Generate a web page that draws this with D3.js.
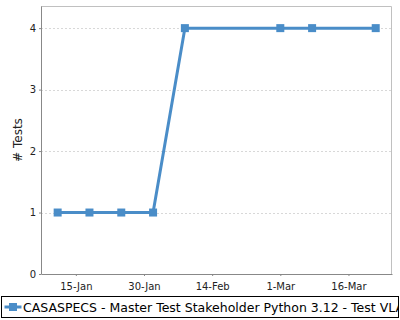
<!DOCTYPE html>
<html>
<head>
<meta charset="utf-8">
<script src="https://cdn.jsdelivr.net/npm/d3@7"></script>
<style>
  body { margin: 0; background: #fff; }
  svg { display: block; font-family: "DejaVu Sans", sans-serif; }
</style>
</head>
<body>
<script>
// weekly test counts
const dates = ['2025-01-11', '2025-01-18', '2025-01-25', '2025-02-01', '2025-02-08', '2025-03-01', '2025-03-08', '2025-03-22'];
const tests = [1, 1, 1, 1, 4, 4, 4, 4];
const tickDates = ['2025-01-15', '2025-01-30', '2025-02-14', '2025-03-01', '2025-03-16'];
const yTicks = [0, 1, 2, 3, 4];
const seriesName = 'CASASPECS - Master Test Stakeholder Python 3.12 - Test VLA';

const W = 400, H = 320;
const margin = { top: 6, right: 8, bottom: 46, left: 41 };
const width = W - margin.left - margin.right;
const height = H - margin.top - margin.bottom;
const color = '#4a8dc8';

const parse = d3.timeParse('%Y-%m-%d');
const data = dates.map((d, i) => ({ date: parse(d), value: tests[i] }));

const x = d3.scaleTime()
    .domain([d3.timeHour.offset(parse('2025-01-07'), 8), d3.timeHour.offset(parse('2025-03-25'), 14)])
    .range([0, width]);

const y = d3.scaleLinear()
    .domain([0, 4.36])
    .range([height, 0]);

const svg = d3.select('body').append('svg')
    .attr('width', W)
    .attr('height', H);

const g = svg.append('g')
    .attr('transform', `translate(${margin.left},${margin.top})`);

// grid
g.selectAll('.grid')
    .data(yTicks.filter(d => d > 0))
    .enter().append('line')
    .attr('x1', 0)
    .attr('x2', width)
    .attr('y1', d => Math.round(y(d)) + 0.5)
    .attr('y2', d => Math.round(y(d)) + 0.5)
    .attr('stroke', '#d8d8d8')
    .attr('stroke-dasharray', '2,2');

// frame (top/right)
g.append('path')
    .attr('d', `M0,0.5H${width - 0.5}V${height}`)
    .attr('fill', 'none')
    .attr('stroke', '#c0c0c0');

const xAxis = g.append('g')
    .attr('transform', `translate(0,${height})`)
    .call(d3.axisBottom(x)
        .tickValues(tickDates.map(parse))
        .tickFormat(d3.timeFormat('%-d-%b'))
        .tickSize(2)
        .tickSizeOuter(0));

const yAxis = g.append('g')
    .call(d3.axisLeft(y)
        .tickValues(yTicks)
        .tickFormat(d3.format('d'))
        .tickSize(2)
        .tickSizeOuter(0));

[xAxis, yAxis].forEach((a) => {
    a.select('.domain').attr('stroke', '#888');
    a.selectAll('.tick line').attr('stroke', '#888');
    a.selectAll('.tick text')
        .attr('fill', '#222')
        .style('font-family', '"DejaVu Sans", sans-serif')
        .style('font-size', '10px');
});
xAxis.selectAll('.tick text').attr('dy', '1.05em');
yAxis.selectAll('.tick text').attr('x', -5);

svg.append('text')
    .attr('transform', `translate(22,${margin.top + height / 2}) rotate(-90)`)
    .attr('text-anchor', 'middle')
    .attr('fill', '#222')
    .style('font-size', '12px')
    .text('# Tests');

const line = d3.line()
    .x(d => x(d.date))
    .y(d => y(d.value));

g.append('path')
    .datum(data)
    .attr('d', line)
    .attr('fill', 'none')
    .attr('stroke', color)
    .attr('stroke-width', 3);

g.selectAll('.pt')
    .data(data)
    .enter().append('rect')
    .attr('x', d => x(d.date) - 4)
    .attr('y', d => y(d.value) - 4)
    .attr('width', 8)
    .attr('height', 8)
    .attr('fill', color);

// legend
svg.append('clipPath').attr('id', 'legclip')
    .append('rect').attr('x', 0).attr('y', 290).attr('width', 398).attr('height', 30);
const leg = svg.append('g').attr('transform', 'translate(1.5,296.5)');
leg.append('rect')
    .attr('width', 397)
    .attr('height', 21)
    .attr('fill', '#fff')
    .attr('stroke', '#000');
leg.append('line')
    .attr('x1', 3).attr('x2', 20)
    .attr('y1', 10.5).attr('y2', 10.5)
    .attr('stroke', color)
    .attr('stroke-width', 3);
leg.append('rect')
    .attr('x', 7.5).attr('y', 6.5)
    .attr('width', 8).attr('height', 8)
    .attr('fill', color);
svg.append('text')
    .attr('clip-path', 'url(#legclip)')
    .attr('x', 23)
    .attr('y', 312)
    .attr('fill', '#000')
    .style('font-size', '12.5px')
    .text(seriesName);
</script>
</body>
</html>
